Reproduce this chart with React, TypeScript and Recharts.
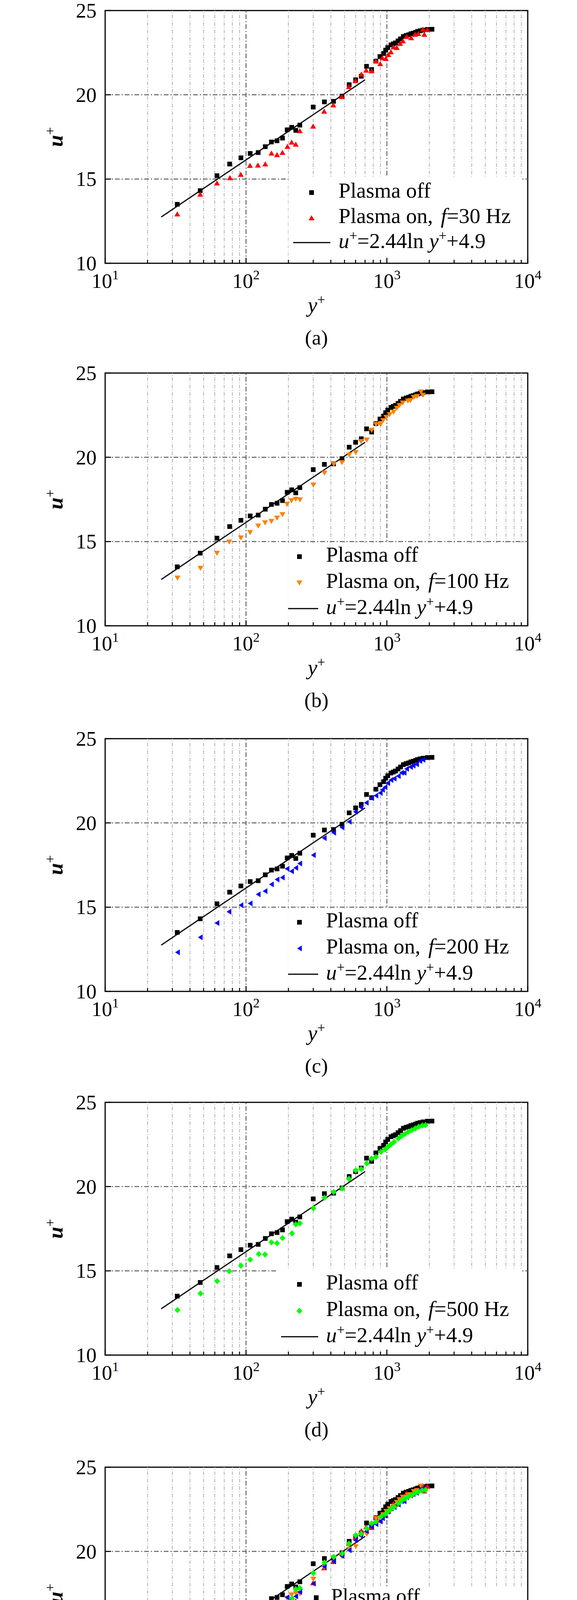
import React from "react";
import {
  ScatterChart, Scatter, XAxis, YAxis, ReferenceLine, ReferenceArea, Legend, Label,
} from "recharts";

const FONT = '"Liberation Serif", "Times New Roman", Times, serif';

// [y+, u+]
const plasmaOff = [
  [32.5, 13.5], [47.3, 14.31], [62.2, 15.2], [76.5, 15.89], [92, 16.26], [107, 16.52],
  [122, 16.57], [137, 16.92], [151.5, 17.2], [166, 17.27], [181.5, 17.43], [196, 17.92],
  [211, 18.07], [225.5, 17.89], [241, 18.2], [300, 19.27], [360, 19.58], [418, 19.61],
  [480, 19.92], [540, 20.6], [600, 20.89], [658, 21.1], [717, 21.69], [779, 21.5],
  [836, 22.0], [893, 22.27], [948, 22.45], [980, 22.65], [1014, 22.8], [1069, 22.96],
  [1110, 23.02], [1151, 23.08], [1200, 23.2], [1250, 23.32], [1309, 23.46], [1370, 23.52],
  [1426, 23.56], [1480, 23.62], [1536, 23.66], [1600, 23.71], [1653, 23.76], [1720, 23.8],
  [1803, 23.84], [1941, 23.88], [2090, 23.89],
];

const plasma30 = [
  [32.5, 12.92], [47.3, 14.09], [62.2, 14.76], [76.9, 15.07], [91.8, 15.27], [106.6, 15.8],
  [121.4, 15.82], [137, 15.89], [151.6, 16.53], [166, 16.44], [181.4, 16.57], [196.8, 16.93],
  [210.8, 17.18], [225.5, 17.06], [240.8, 17.86], [299.5, 18.13], [358.6, 19.02], [416.6, 19.39],
  [478.6, 19.88], [537, 20.48], [598, 20.83], [659, 21.22], [713, 21.45], [779, 21.41],
  [836, 22.0], [897, 21.84], [930, 22.19], [982, 22.15], [1024, 22.38], [1069, 22.54],
  [1114, 22.84], [1175, 22.8], [1241, 23.04], [1300, 23.19], [1380, 23.46], [1487, 23.38],
  [1585, 23.58], [1671, 23.63], [1803, 23.89], [1843, 23.58], [1941, 23.86],
];

const plasma100 = [
  [32.6, 12.84], [47.5, 13.42], [62.2, 14.31], [76, 14.98], [92, 15.22], [107, 15.54],
  [122, 15.93], [136.5, 16.12], [151.5, 16.2], [166, 16.4], [181.5, 16.6], [195.5, 17.22],
  [210.4, 17.43], [225.4, 17.52], [241.4, 17.48], [300.6, 18.36], [360.6, 19.07], [420, 19.59],
  [480, 19.69], [540, 20.15], [601, 20.29], [656, 20.94], [720, 21.03], [780, 21.61],
  [838, 21.96], [902, 21.96], [940, 22.19], [991, 22.38], [1046, 22.54], [1115, 22.69],
  [1177, 22.92], [1228, 23.08], [1295, 23.23], [1410, 23.35], [1471, 23.38], [1552, 23.56],
  [1638, 23.62], [1746, 23.89], [1803, 23.69],
];

const plasma200 = [
  [32.6, 12.32], [47.3, 13.21], [62.2, 14.06], [75.6, 14.73], [92, 15.12], [107, 15.22],
  [122, 15.76], [136.5, 15.95], [151.5, 16.35], [166, 16.64], [181, 16.76], [195.5, 17.28],
  [210.4, 17.13], [225.4, 17.33], [240.5, 17.59], [300.6, 18.09], [359, 19.1], [419, 19.42],
  [480, 19.73], [540, 20.07], [598, 20.66], [652, 20.93], [714, 21.2], [778, 21.47],
  [836, 21.62], [897, 21.78], [930, 21.97], [970, 22.12], [1014, 22.36], [1069, 22.55],
  [1127, 22.63], [1205, 22.78], [1270, 22.98], [1325, 22.98], [1380, 23.21], [1471, 23.32],
  [1536, 23.4], [1625, 23.48], [1714, 23.67], [1803, 23.75],
];

const plasma500 = [
  [32.6, 12.67], [47.5, 13.65], [62.4, 14.39], [76, 14.98], [92, 15.31], [107, 15.66],
  [123, 16.0], [136.5, 15.97], [151.5, 16.69], [166, 16.64], [181.5, 16.95], [212, 17.22],
  [225.4, 17.76], [241.4, 17.82], [300.6, 18.71], [360.6, 19.34], [419, 19.68], [482, 19.88],
  [538, 20.46], [601, 20.96], [656, 21.05], [720, 21.37], [778, 21.66], [838, 21.76],
  [908, 22.06], [970, 22.2], [1014, 22.35], [1069, 22.5], [1127, 22.65], [1205, 22.85],
  [1270, 23.0], [1340, 23.12], [1420, 23.25], [1500, 23.35], [1590, 23.45], [1680, 23.55],
  [1780, 23.62], [1880, 23.65],
];

// log law u+ = 2.44 ln y+ + 4.9, end points as drawn
const lawLine = [[25, 12.75], [700, 20.89]];

const xTicks = [
  10, 20, 30, 40, 50, 60, 70, 80, 90,
  100, 200, 300, 400, 500, 600, 700, 800, 900,
  1000, 2000, 3000, 4000, 5000, 6000, 7000, 8000, 9000, 10000,
];
const xDecades = [10, 100, 1000, 10000];
const xDecadeExp = ["1", "2", "3", "4"];
const yTicks = [10, 15, 20, 25];
const xMinorGrid = [
  20, 30, 40, 50, 60, 70, 80, 90,
  200, 300, 400, 500, 600, 700, 800, 900,
  2000, 3000, 4000, 5000, 6000, 7000, 8000, 9000,
];
const xMajorGrid = [100, 1000];
const yGrid = [15, 20];

const toPts = (arr: number[][]) => arr.map(([x, y]) => ({ x, y }));

type Kind = "square" | "up" | "down" | "left" | "diamond";

const SERIES: Record<string, { label: string; freq: string; data: number[][]; color: string; kind: Kind }> = {
  off: { label: "Plasma off", freq: "", data: plasmaOff, color: "#000000", kind: "square" },
  f30: { label: "Plasma on,", freq: "30", data: plasma30, color: "#ff0000", kind: "up" },
  f100: { label: "Plasma on,", freq: "100", data: plasma100, color: "#ff8000", kind: "down" },
  f200: { label: "Plasma on,", freq: "200", data: plasma200, color: "#0000ff", kind: "left" },
  f500: { label: "Plasma on,", freq: "500", data: plasma500, color: "#00ff00", kind: "diamond" },
};

function Marker({ kind, cx, cy, color }: { kind: Kind; cx: number; cy: number; color: string }) {
  if (cx == null || cy == null) return <g />;
  switch (kind) {
    case "square":
      return <rect x={cx - 6} y={cy - 6} width={12} height={12} fill={color} />;
    case "up":
      return <polygon points={`${cx},${cy - 7} ${cx + 7.5},${cy + 6} ${cx - 7.5},${cy + 6}`} fill={color} />;
    case "down":
      return <polygon points={`${cx},${cy + 7} ${cx + 7.5},${cy - 6} ${cx - 7.5},${cy - 6}`} fill={color} />;
    case "left":
      return <polygon points={`${cx - 6},${cy} ${cx + 6},${cy - 7.5} ${cx + 6},${cy + 7.5}`} fill={color} />;
    default:
      return <polygon points={`${cx},${cy - 8} ${cx + 7.5},${cy} ${cx},${cy + 8} ${cx - 7.5},${cy}`} fill={color} />;
  }
}

const XTick = (props: any) => {
  const { x, y, payload } = props;
  const idx = xDecades.indexOf(payload.value);
  const major = idx >= 0;
  return (
    <g>
      <line x1={x} x2={x} y1={y} y2={y - (major ? 14 : 9)} stroke="#000" strokeWidth={2.5} />
      {major && (
        <text x={x} y={y + 63} textAnchor="middle" fontFamily={FONT} fontSize={53} fill="#000">
          10<tspan dy={-22} fontSize={34}>{xDecadeExp[idx]}</tspan>
        </text>
      )}
    </g>
  );
};

const YTick = (props: any) => {
  const { x, y, payload } = props;
  return (
    <g>
      <line x1={x} x2={x + 15} y1={y} y2={y} stroke="#000" strokeWidth={2.5} />
      <text x={x - 22} y={y + 18} textAnchor="end" fontFamily={FONT} fontSize={53} fill="#000">
        {payload.value}
      </text>
    </g>
  );
};

type LegendSpec = {
  left: number; top: number; width: number; height: number; font: number;
  markerX: number; textX: number; lineX: [number, number]; rows: number[];
};

function LegendBox({ spec, keys }: { spec: LegendSpec; keys: string[] }) {
  const lawRow = spec.rows[keys.length] - spec.top;
  const sup = Math.round(spec.font * 0.36);
  return (
    <svg width={spec.width} height={spec.height} style={{ display: "block", background: "#fff" }}>
      {keys.map((k, i) => {
        const s = SERIES[k];
        const by = spec.rows[i] - spec.top;
        return (
          <g key={k}>
            <Marker kind={s.kind} cx={spec.markerX - spec.left} cy={by - 13} color={s.color} />
            <text x={spec.textX - spec.left} y={by} fontFamily={FONT} fontSize={spec.font} fill="#000">
              {s.label}
              {s.freq && (
                <>
                  <tspan dx={20} fontStyle="italic">f</tspan>
                  <tspan>{`=${s.freq} Hz`}</tspan>
                </>
              )}
            </text>
          </g>
        );
      })}
      <line
        x1={spec.lineX[0] - spec.left} x2={spec.lineX[1] - spec.left}
        y1={lawRow - 14} y2={lawRow - 14} stroke="#000" strokeWidth={3}
      />
      <text x={spec.textX - spec.left} y={lawRow} fontFamily={FONT} fontSize={spec.font} fill="#000">
        <tspan fontStyle="italic">u</tspan>
        <tspan dy={-sup} fontSize={36}>+</tspan>
        <tspan dy={sup}>=2.44ln </tspan>
        <tspan fontStyle="italic">y</tspan>
        <tspan dy={-sup} fontSize={36}>+</tspan>
        <tspan dy={sup}>+4.9</tspan>
      </text>
    </svg>
  );
}

const legendBD = (left: number, top: number, rows: number[]): LegendSpec => ({
  left, top, width: 1336 - left, height: 660 - top, font: 55,
  markerX: 766, textX: 834, lineX: [719, 814], rows,
});

const PANELS: { tag: string; top: number; keys: string[]; legend: LegendSpec }[] = [
  {
    tag: "(a)", top: 0, keys: ["off", "f30"],
    legend: { left: 738, top: 453, width: 598, height: 207, font: 55, markerX: 797, textX: 866, lineX: [750, 845], rows: [506, 571, 635] },
  },
  { tag: "(b)", top: 928, keys: ["off", "f100"], legend: legendBD(737, 462, [510, 577, 644]) },
  { tag: "(c)", top: 1864, keys: ["off", "f200"], legend: legendBD(737, 462, [510, 577, 644]) },
  { tag: "(d)", top: 2795, keys: ["off", "f500"], legend: legendBD(708, 454, [506, 574, 641]) },
  {
    tag: "(e)", top: 3729, keys: ["off", "f30", "f100", "f200", "f500"],
    legend: { left: 781, top: 334, width: 554, height: 326, font: 53, markerX: 809, textX: 847, lineX: [788, 832], rows: [374, 428, 482, 537, 591, 644] },
  },
];

function Panel({ p }: { p: (typeof PANELS)[number] }) {
  const lg = p.legend;
  return (
    <div style={{ position: "absolute", left: 0, top: p.top, width: 1476, height: 900 }}>
      <ScatterChart width={1476} height={900} margin={{ top: 27, right: 126, bottom: 0, left: 0 }}>
        <XAxis
          type="number" dataKey="x" scale="log" domain={[10, 10000]} ticks={xTicks} interval={0}
          allowDataOverflow axisLine={false} tickLine={false} tickSize={0} tickMargin={0} height={226}
          tick={(props: any) => <XTick {...props} />}
        >
          <Label
            content={(lp: any) => {
              const vb = lp.viewBox || { x: 269, y: 674, width: 1081 };
              const cx = vb.x + vb.width / 2;
              return (
                <g fontFamily={FONT} fill="#000">
                  <text x={cx} y={vb.y + 125} textAnchor="middle" fontSize={55}>
                    <tspan fontStyle="italic">y</tspan>
                    <tspan dy={-20} fontSize={36}>+</tspan>
                  </text>
                  <text x={cx} y={vb.y + 208} textAnchor="middle" fontSize={53}>{p.tag}</text>
                </g>
              );
            }}
          />
        </XAxis>
        <YAxis
          type="number" dataKey="y" domain={[10, 25]} ticks={yTicks} interval={0}
          allowDataOverflow axisLine={false} tickLine={false} tickSize={0} tickMargin={0} width={269}
          tick={(props: any) => <YTick {...props} />}
        >
          <Label
            content={(lp: any) => {
              const vb = lp.viewBox || { x: 0, y: 27, height: 647 };
              const cy = vb.y + vb.height / 2;
              return (
                <text
                  x={160} y={cy} textAnchor="middle" transform={`rotate(-90, 160, ${cy})`}
                  fontFamily={FONT} fontSize={55} fill="#000"
                >
                  <tspan fontStyle="italic" fontWeight="bold">u</tspan>
                  <tspan dy={-20} fontSize={36}>+</tspan>
                </text>
              );
            }}
          />
        </YAxis>
        {xMinorGrid.map((v) => (
          <ReferenceLine key={`mx${v}`} x={v} stroke="#b8b8b8" strokeWidth={2.2} strokeDasharray="9 4 2 4" />
        ))}
        {xMajorGrid.map((v) => (
          <ReferenceLine key={`Mx${v}`} x={v} stroke="#6e6e6e" strokeWidth={2.6} strokeDasharray="12 5 3 5" />
        ))}
        {yGrid.map((v) => (
          <ReferenceLine key={`gy${v}`} y={v} stroke="#6e6e6e" strokeWidth={2.6} strokeDasharray="12 5 3 5" />
        ))}
        <Scatter
          data={toPts(lawLine)} line={{ stroke: "#000", strokeWidth: 3 }}
          shape={() => <g />} isAnimationActive={false} legendType="none"
        />
        {p.keys.map((k) => {
          const s = SERIES[k];
          return (
            <Scatter
              key={k} data={toPts(s.data)} isAnimationActive={false}
              shape={(sp: any) => <Marker kind={s.kind} cx={sp.cx} cy={sp.cy} color={s.color} />}
            />
          );
        })}
        <ReferenceArea
          x1={10} x2={10000} y1={10} y2={25} fill="none" fillOpacity={0}
          stroke="#000" strokeWidth={3} ifOverflow="visible"
        />
        <Legend
          layout="horizontal" verticalAlign="middle" align="center"
          wrapperStyle={{ left: lg.left, top: lg.top, width: lg.width, height: lg.height, background: "#fff" }}
          content={() => <LegendBox spec={lg} keys={p.keys} />}
        />
      </ScatterChart>
    </div>
  );
}

export default function App() {
  return (
    <div style={{ position: "absolute", left: 0, top: 0, width: 1476, height: 4634, background: "#fff" }}>
      {PANELS.map((p) => (
        <Panel key={p.tag} p={p} />
      ))}
    </div>
  );
}
